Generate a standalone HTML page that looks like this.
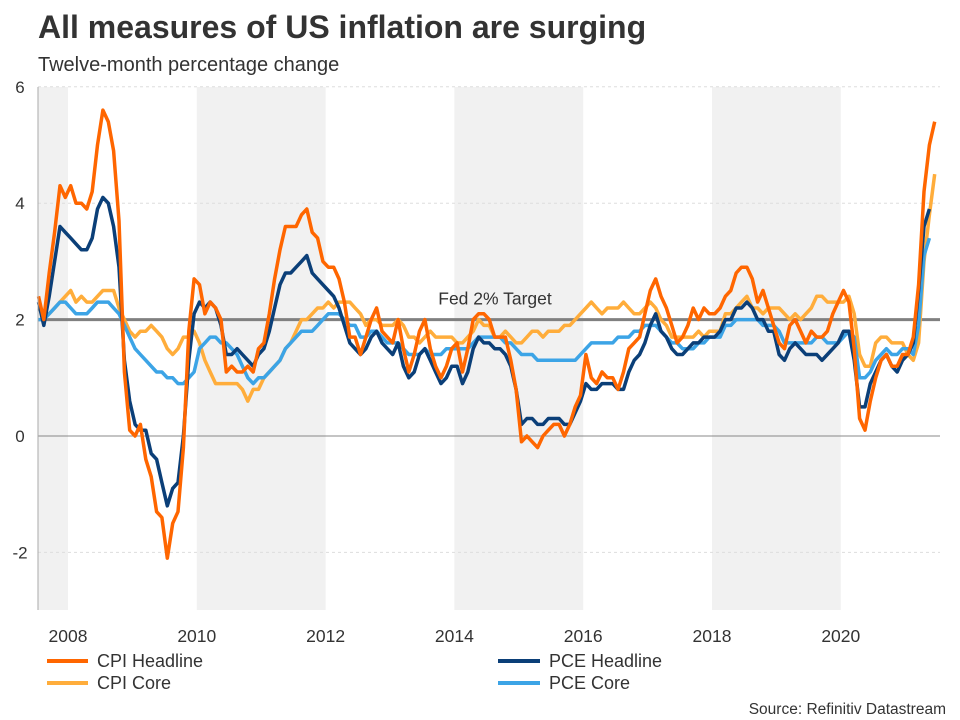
<!DOCTYPE html>
<html><head><meta charset="utf-8">
<style>
body{margin:0;background:#fff;font-family:"Liberation Sans",Arial,sans-serif;}
svg{display:block}
</style></head>
<body>
<svg id="chart" width="960" height="720" viewBox="0 0 960 720">
<text x="38" y="38" font-size="32" font-weight="bold" fill="#333">All measures of US inflation are surging</text>
<text x="38" y="71" font-size="20" fill="#333">Twelve-month percentage change</text>
<g id="bands"></g>
<g id="grid"></g>
<g id="series"></g>
<g id="axes"></g>
<g>
<line x1="47" y1="661" x2="88" y2="661" stroke="#ff6600" stroke-width="4"/>
<text x="97" y="667" font-size="18" fill="#333">CPI Headline</text>
<line x1="47" y1="683" x2="88" y2="683" stroke="#ffad3b" stroke-width="4"/>
<text x="97" y="689" font-size="18" fill="#333">CPI Core</text>
<line x1="498" y1="661" x2="540" y2="661" stroke="#0b3f78" stroke-width="4"/>
<text x="549" y="667" font-size="18" fill="#333">PCE Headline</text>
<line x1="498" y1="683" x2="540" y2="683" stroke="#3ca4e6" stroke-width="4"/>
<text x="549" y="689" font-size="18" fill="#333">PCE Core</text>
</g>
<text x="946" y="714" font-size="15.5" fill="#333" text-anchor="end">Source: Refinitiv Datastream</text>
</svg>
<script>
const yTicks=[-2,0,2,4,6];
const xTickYears=[2008,2010,2012,2014,2016,2018,2020];
const shadedYears=[[2007.5,2008],[2010,2012],[2014,2016],[2018,2020]];
const targetValue=2;
const startYear=2007, startMonth=6;
const cpiHeadline=[2.4,2.0,2.8,3.5,4.3,4.1,
4.3,4.0,4.0,3.9,4.2,5.0,5.6,5.4,4.9,3.7,1.1,0.1,
0.0,0.2,-0.4,-0.7,-1.3,-1.4,-2.1,-1.5,-1.3,-0.2,1.8,2.7,
2.6,2.1,2.3,2.2,2.0,1.1,1.2,1.1,1.1,1.2,1.1,1.5,
1.6,2.1,2.7,3.2,3.6,3.6,3.6,3.8,3.9,3.5,3.4,3.0,
2.9,2.9,2.7,2.3,1.7,1.7,1.4,1.7,2.0,2.2,1.8,1.7,
1.6,2.0,1.5,1.1,1.4,1.8,2.0,1.5,1.2,1.0,1.2,1.5,
1.6,1.1,1.5,2.0,2.1,2.1,2.0,1.7,1.7,1.7,1.3,0.8,
-0.1,0.0,-0.1,-0.2,0.0,0.1,0.2,0.2,0.0,0.2,0.5,0.7,
1.4,1.0,0.9,1.1,1.0,1.0,0.8,1.1,1.5,1.6,1.7,2.1,
2.5,2.7,2.4,2.2,1.9,1.6,1.7,1.9,2.2,2.0,2.2,2.1,
2.1,2.2,2.4,2.5,2.8,2.9,2.9,2.7,2.3,2.5,2.2,1.9,
1.6,1.5,1.9,2.0,1.8,1.6,1.8,1.7,1.7,1.8,2.1,2.3,
2.5,2.3,1.5,0.3,0.1,0.6,1.0,1.3,1.4,1.2,1.2,1.4,
1.4,1.7,2.6,4.2,5.0,5.4];
const cpiCore=[2.2,2.1,2.1,2.2,2.3,2.4,
2.5,2.3,2.4,2.3,2.3,2.4,2.5,2.5,2.5,2.2,2.0,1.8,
1.7,1.8,1.8,1.9,1.8,1.7,1.5,1.4,1.5,1.7,1.7,1.8,
1.6,1.3,1.1,0.9,0.9,0.9,0.9,0.9,0.8,0.6,0.8,0.8,
1.0,1.1,1.2,1.3,1.5,1.6,1.8,2.0,2.0,2.1,2.2,2.2,
2.3,2.2,2.3,2.3,2.3,2.2,2.1,1.9,2.0,2.0,1.9,1.9,
1.9,2.0,1.9,1.7,1.7,1.6,1.7,1.8,1.7,1.7,1.7,1.7,
1.6,1.6,1.7,1.8,2.0,1.9,1.9,1.7,1.7,1.8,1.7,1.6,
1.6,1.7,1.8,1.8,1.7,1.8,1.8,1.8,1.9,1.9,2.0,2.1,
2.2,2.3,2.2,2.1,2.2,2.2,2.2,2.3,2.2,2.1,2.1,2.2,
2.3,2.2,2.0,1.9,1.7,1.7,1.7,1.7,1.7,1.8,1.7,1.8,
1.8,1.8,2.1,2.1,2.2,2.3,2.4,2.2,2.2,2.1,2.2,2.2,
2.2,2.1,2.0,2.1,2.0,2.1,2.2,2.4,2.4,2.3,2.3,2.3,
2.3,2.4,2.1,1.4,1.2,1.2,1.6,1.7,1.7,1.6,1.6,1.6,
1.4,1.3,1.6,3.0,3.8,4.5];
const pceHeadline=[2.3,1.9,2.4,3.0,3.6,3.5,
3.4,3.3,3.2,3.2,3.4,3.9,4.1,4.0,3.6,2.9,1.3,0.6,
0.2,0.1,0.1,-0.3,-0.4,-0.8,-1.2,-0.9,-0.8,0.0,1.3,2.1,
2.3,2.2,2.3,2.2,1.9,1.4,1.4,1.5,1.4,1.3,1.2,1.4,
1.5,1.8,2.2,2.6,2.8,2.8,2.9,3.0,3.1,2.8,2.7,2.6,
2.5,2.4,2.2,1.9,1.6,1.5,1.4,1.5,1.7,1.8,1.6,1.5,
1.4,1.6,1.2,1.0,1.1,1.4,1.5,1.3,1.1,0.9,1.0,1.2,
1.2,0.9,1.1,1.5,1.7,1.6,1.6,1.5,1.5,1.4,1.2,0.8,
0.2,0.3,0.3,0.2,0.2,0.3,0.3,0.3,0.2,0.2,0.4,0.6,
0.9,0.8,0.8,0.9,0.9,0.9,0.8,0.8,1.1,1.3,1.4,1.6,
1.9,2.1,1.8,1.7,1.5,1.4,1.4,1.5,1.6,1.6,1.7,1.7,
1.7,1.8,2.0,2.0,2.2,2.2,2.3,2.2,2.0,2.0,1.8,1.8,
1.4,1.3,1.5,1.6,1.5,1.4,1.4,1.4,1.3,1.4,1.5,1.6,
1.8,1.8,1.3,0.5,0.5,0.9,1.1,1.3,1.4,1.2,1.1,1.3,
1.4,1.6,2.5,3.6,3.9];
const pceCore=[2.0,2.0,2.1,2.2,2.3,2.3,
2.2,2.1,2.1,2.1,2.2,2.3,2.3,2.3,2.2,2.1,1.9,1.7,
1.5,1.4,1.3,1.2,1.1,1.1,1.0,1.0,0.9,0.9,1.0,1.1,
1.5,1.6,1.7,1.7,1.6,1.6,1.5,1.4,1.2,1.0,0.9,1.0,
1.0,1.1,1.2,1.3,1.5,1.6,1.7,1.8,1.8,1.8,1.9,2.0,
2.1,2.1,2.1,2.0,1.9,1.9,1.7,1.7,1.8,1.8,1.7,1.6,
1.6,1.6,1.5,1.4,1.4,1.4,1.5,1.4,1.4,1.4,1.5,1.5,
1.5,1.5,1.5,1.6,1.7,1.7,1.7,1.7,1.7,1.6,1.6,1.5,
1.4,1.4,1.4,1.3,1.3,1.3,1.3,1.3,1.3,1.3,1.3,1.4,
1.5,1.6,1.6,1.6,1.6,1.6,1.7,1.7,1.7,1.8,1.8,1.9,
1.9,1.9,1.8,1.7,1.6,1.6,1.5,1.5,1.5,1.6,1.6,1.7,
1.7,1.7,1.9,1.9,2.0,2.0,2.0,2.0,2.0,1.9,1.9,1.9,
1.8,1.6,1.6,1.6,1.6,1.6,1.6,1.7,1.7,1.6,1.6,1.6,
1.7,1.8,1.7,1.0,1.0,1.1,1.3,1.4,1.5,1.4,1.4,1.5,
1.5,1.4,1.9,3.1,3.4];

const NS='http://www.w3.org/2000/svg';
const plotL=38,plotR=940,plotT=87,plotB=610;
function xScale(t){return 68+(t-2008)*64.4;}
function yScale(v){return 436-v*58.2;}
function tIndex(i){const m=startMonth+i;return startYear+Math.floor(m/12)+((m%12)+0.5)/12;}
function mk(tag,attrs,parent){const e=document.createElementNS(NS,tag);for(const k in attrs)e.setAttribute(k,attrs[k]);parent.appendChild(e);return e;}

const bands=document.getElementById('bands');
shadedYears.forEach(function(b){
  const r=mk('rect',{x:Math.max(plotL,xScale(b[0])),y:plotT,width:xScale(b[1])-Math.max(plotL,xScale(b[0])),height:plotB-plotT,fill:'#f1f1f1'},bands);
  
  
});
const grid=document.getElementById('grid');
yTicks.forEach(function(v){
  const l=mk('line',{x1:plotL,x2:plotR,y1:yScale(v),y2:yScale(v),stroke:v===0?'#888':'#ddd','stroke-width':1,'stroke-dasharray':v===0?'':'3,3'},grid);
  
  
});
const tgt=mk('line',{x1:plotL,x2:plotR,y1:yScale(targetValue),y2:yScale(targetValue),stroke:'#808080','stroke-width':3},grid);


const tl=mk('text',{x:495,y:yScale(targetValue)-15,'font-size':17.5,fill:'#333','text-anchor':'middle'},grid);
tl.textContent='Fed 2% Target';



const seriesG=document.getElementById('series');
const seriesDefs=[[cpiCore,'#ffad3b','cpi-core-line'],[pceCore,'#3ca4e6','pce-core-line'],[pceHeadline,'#0b3f78','pce-headline-line'],[cpiHeadline,'#ff6600','cpi-headline-line']];
seriesDefs.forEach(function(s){
  const pts=s[0].map(function(v,i){return xScale(tIndex(i)).toFixed(1)+','+yScale(v).toFixed(1);}).join(' ');
  const p=mk('polyline',{points:pts,fill:'none',stroke:s[1],'stroke-width':3.5,'stroke-linejoin':'round'},seriesG);
  
  
});

const axes=document.getElementById('axes');
const yl=mk('line',{x1:plotL,x2:plotL,y1:plotT,y2:plotB,stroke:'#aaa','stroke-width':1},axes);


yTicks.forEach(function(v){
  const t=mk('text',{x:20,y:yScale(v)+6,'font-size':17,fill:'#333','text-anchor':'middle'},axes);
  t.textContent=String(v);
  
  
});
xTickYears.forEach(function(y){
  const t=mk('text',{x:xScale(y),y:642,'font-size':17.5,fill:'#333','text-anchor':'middle'},axes);
  t.textContent=String(y);
  
  
});
</script>
</body></html>
